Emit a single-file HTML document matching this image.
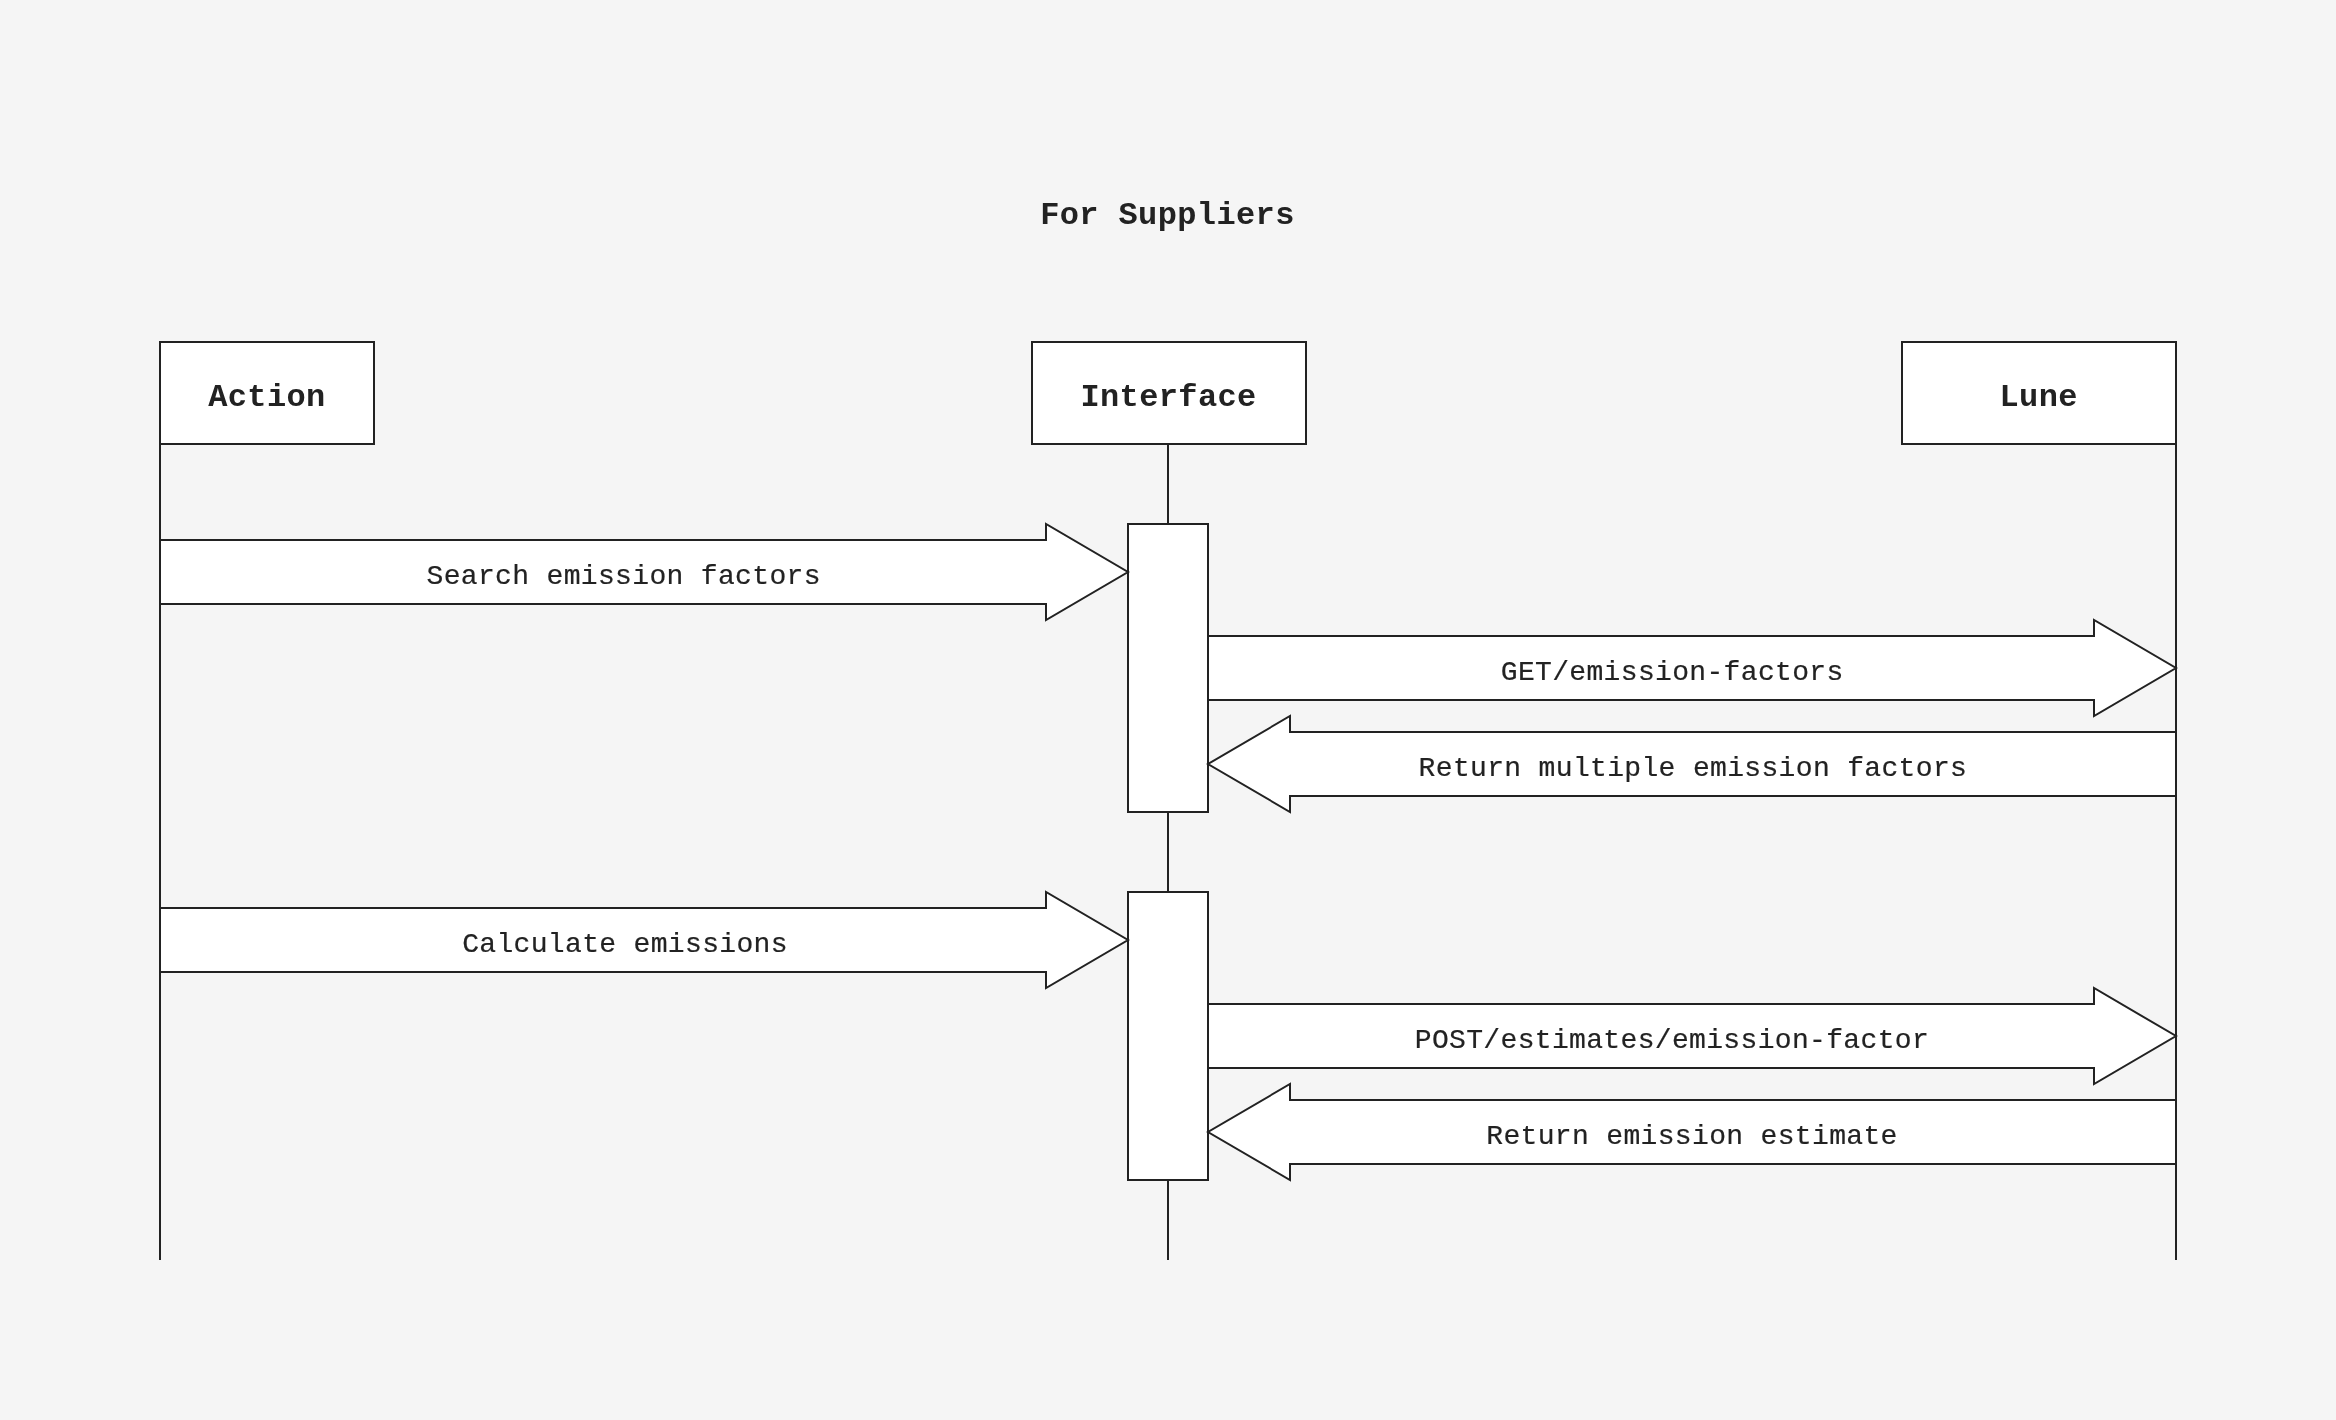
<!DOCTYPE html>
<html lang="en">
<head>
<meta charset="utf-8">
<title>For Suppliers</title>
<style>
html,body{margin:0;padding:0;background:#f5f5f5;}
body{width:2336px;height:1420px;overflow:hidden;}
svg{display:block;width:2336px;height:1420px;will-change:transform;}
@media (min-resolution:2dppx){body,svg{width:1168px;height:710px;}}
.s{fill:none;stroke:#222;stroke-width:2;}
.b{fill:#fff;stroke:#222;stroke-width:2;stroke-miterlimit:10;}
text{font-family:"Liberation Mono", monospace;fill:#222;text-anchor:middle;white-space:pre;}
.h{font-weight:700;font-size:32px;letter-spacing:0.38px;}
.t{font-weight:400;font-size:28px;letter-spacing:0.34px;stroke:#222;stroke-width:0.2px;}
</style>
</head>
<body>
<svg width="2336" height="1420" viewBox="0 0 2336 1420" role="img" aria-label="For Suppliers sequence diagram">
<rect width="2336" height="1420" fill="#f5f5f5"/>
<path class="s" d="M160 444V1260M1168 444V1260M2176 444V1260"/>
<rect class="b" x="160" y="342" width="214" height="102"/>
<rect class="b" x="1032" y="342" width="274" height="102"/>
<rect class="b" x="1902" y="342" width="274" height="102"/>
<rect class="b" x="1128" y="524" width="80" height="288"/>
<rect class="b" x="1128" y="892" width="80" height="288"/>
<path class="b" d="M160 540H1046V524L1128 572L1046 620V604H160Z"/>
<path class="b" d="M160 908H1046V892L1128 940L1046 988V972H160Z"/>
<path class="b" d="M1208 636H2094V620L2176 668L2094 716V700H1208Z"/>
<path class="b" d="M1208 1004H2094V988L2176 1036L2094 1084V1068H1208Z"/>
<path class="b" d="M2176 732H1290V716L1208 764L1290 812V796H2176Z"/>
<path class="b" d="M2176 1100H1290V1084L1208 1132L1290 1180V1164H2176Z"/>
<text class="h" x="1167.45" y="224">For Suppliers</text>
<text class="h" x="266.9" y="406">Action</text>
<text class="h" x="1168.55" y="406">Interface</text>
<text class="h" x="2038.65" y="406">Lune</text>
<text class="t" x="623.7" y="584">Search emission factors</text>
<text class="t" x="1672.2" y="680">GET/emission-factors</text>
<text class="t" x="1692.9" y="776">Return multiple emission factors</text>
<text class="t" x="625.0" y="952">Calculate emissions</text>
<text class="t" x="1671.95" y="1048">POST/estimates/emission-factor</text>
<text class="t" x="1692.0" y="1144">Return emission estimate</text>
</svg>
</body>
</html>
